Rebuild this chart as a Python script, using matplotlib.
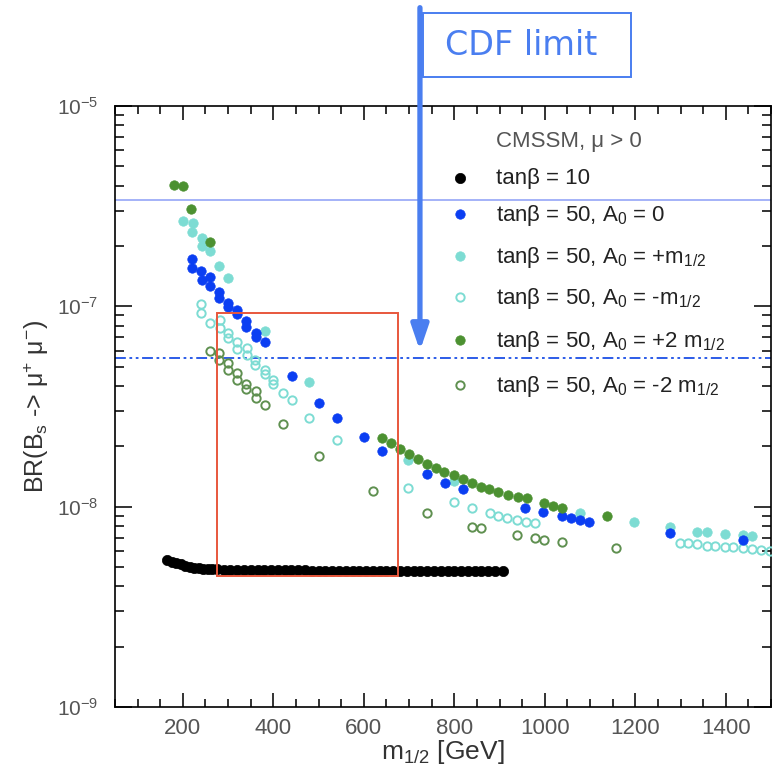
import matplotlib
matplotlib.use("Agg")
import matplotlib.pyplot as plt
from matplotlib.patches import Rectangle
from matplotlib.ticker import MultipleLocator, LogLocator, FixedLocator, FixedFormatter, NullFormatter

plt.rcParams['font.family'] = ['Liberation Sans', 'DejaVu Sans']
plt.rcParams['mathtext.fontset'] = 'custom'
plt.rcParams['mathtext.rm'] = 'Liberation Sans'
plt.rcParams['mathtext.it'] = 'Liberation Sans:italic'
plt.rcParams['mathtext.bf'] = 'Liberation Sans:bold'

# ---------------- data ----------------
# tan(beta) = 10
tb10_x = [165, 175, 185, 195, 205, 215, 225, 235, 245, 255, 265, 275, 290, 305, 320, 335, 350, 365,
          380, 395, 410, 425, 440, 455, 470, 485, 500, 515, 530, 545, 560, 575, 590, 605, 620, 635,
          650, 665, 680, 695, 710, 725, 740, 755, 770, 785, 800, 815, 830, 845, 860, 875, 890, 908]
tb10_y = [5.40e-9, 5.30e-9, 5.22e-9, 5.15e-9, 5.08e-9, 5.02e-9, 4.97e-9, 4.93e-9, 4.90e-9, 4.88e-9,
          4.87e-9, 4.86e-9, 4.85e-9, 4.84e-9, 4.84e-9, 4.83e-9, 4.83e-9, 4.83e-9, 4.82e-9, 4.82e-9,
          4.82e-9, 4.82e-9, 4.81e-9, 4.81e-9, 4.81e-9, 4.80e-9, 4.80e-9, 4.80e-9, 4.80e-9, 4.80e-9,
          4.80e-9, 4.79e-9, 4.79e-9, 4.79e-9, 4.79e-9, 4.79e-9, 4.79e-9, 4.79e-9, 4.78e-9, 4.78e-9,
          4.78e-9, 4.78e-9, 4.78e-9, 4.78e-9, 4.77e-9, 4.77e-9, 4.77e-9, 4.77e-9, 4.77e-9, 4.76e-9,
          4.76e-9, 4.76e-9, 4.76e-9, 4.76e-9]

# tan(beta) = 50, A0 = 0
a0_x = [220, 220, 240, 242, 260, 260, 280, 280, 300, 300, 320, 320, 340, 340, 362, 362, 382,
        441, 501, 541, 600, 640, 740, 779, 819, 956, 996, 1038, 1058, 1078, 1098, 1277, 1438]
a0_y = [1.72e-7, 1.55e-7, 1.50e-7, 1.35e-7, 1.40e-7, 1.26e-7, 1.18e-7, 1.10e-7, 1.04e-7, 9.9e-8,
        9.6e-8, 9.2e-8, 8.45e-8, 7.9e-8, 7.4e-8, 7.0e-8, 6.6e-8,
        4.5e-8, 3.3e-8, 2.77e-8, 2.22e-8, 1.90e-8, 1.46e-8, 1.31e-8, 1.22e-8, 9.8e-9, 9.4e-9,
        9.0e-9, 8.8e-9, 8.6e-9, 8.4e-9, 7.4e-9, 6.8e-9]

# tan(beta) = 50, A0 = +m1/2
ap_x = [200, 222, 220, 242, 242, 260, 280, 300, 382, 479, 698, 799, 1078, 1197, 1277, 1337, 1359,
        1398, 1438, 1458]
ap_y = [2.67e-7, 2.61e-7, 2.35e-7, 2.19e-7, 2.0e-7, 1.89e-7, 1.59e-7, 1.38e-7, 7.5e-8, 4.2e-8,
        1.71e-8, 1.34e-8, 9.3e-9, 8.4e-9, 7.9e-9, 7.5e-9, 7.5e-9, 7.3e-9, 7.2e-9, 7.1e-9]

# tan(beta) = 50, A0 = -m1/2
am_x = [240, 240, 260, 282, 282, 300, 300, 320, 320, 342, 342, 360, 360, 382, 382, 399, 399, 421,
        441, 479, 541, 698, 799, 839, 879, 897, 917, 939, 958, 978,
        1299, 1317, 1337, 1359, 1376, 1398, 1416, 1438, 1458, 1478, 1498]
am_y = [1.03e-7, 9.3e-8, 8.3e-8, 8.55e-8, 7.8e-8, 7.4e-8, 6.95e-8, 6.6e-8, 6.1e-8, 6.2e-8, 5.7e-8,
        5.4e-8, 5.1e-8, 4.8e-8, 4.6e-8, 4.3e-8, 4.1e-8, 3.7e-8, 3.4e-8, 2.77e-8, 2.15e-8,
        1.24e-8, 1.05e-8, 9.8e-9, 9.3e-9, 9.0e-9, 8.8e-9, 8.6e-9, 8.4e-9, 8.3e-9,
        6.6e-9, 6.6e-9, 6.5e-9, 6.4e-9, 6.35e-9, 6.3e-9, 6.3e-9, 6.2e-9, 6.15e-9, 6.1e-9, 6.0e-9]

# tan(beta) = 50, A0 = +2 m1/2
a2p_x = [180, 200, 218, 260, 640, 660, 680, 700, 720, 740, 760, 777, 799, 819, 839, 859, 877, 897,
         919, 941, 961, 998, 1018, 1038, 1138]
a2p_y = [4.03e-7, 4.0e-7, 3.06e-7, 2.09e-7, 2.2e-8, 2.08e-8, 1.94e-8, 1.83e-8, 1.73e-8, 1.63e-8,
         1.56e-8, 1.49e-8, 1.44e-8, 1.37e-8, 1.31e-8, 1.25e-8, 1.22e-8, 1.18e-8, 1.14e-8, 1.12e-8,
         1.10e-8, 1.04e-8, 1.01e-8, 9.8e-9, 8.97e-9]

# tan(beta) = 50, A0 = -2 m1/2
a2m_x = [260, 280, 280, 300, 300, 320, 320, 340, 340, 362, 362, 382, 421, 501, 620, 740, 839, 859,
         939, 978, 998, 1038, 1157]
a2m_y = [5.98e-8, 5.85e-8, 5.4e-8, 5.2e-8, 4.8e-8, 4.65e-8, 4.3e-8, 4.1e-8, 3.86e-8, 3.77e-8,
         3.5e-8, 3.2e-8, 2.6e-8, 1.79e-8, 1.2e-8, 9.3e-9, 7.9e-9, 7.8e-9, 7.2e-9, 7.0e-9, 6.8e-9,
         6.65e-9, 6.2e-9]

labels = ['tanβ = 10',
          'tanβ = 50, A$_0$ = 0',
          'tanβ = 50, A$_0$ = +m$_{1/2}$',
          'tanβ = 50, A$_0$ = -m$_{1/2}$',
          'tanβ = 50, A$_0$ = +2 m$_{1/2}$',
          'tanβ = 50, A$_0$ = -2 m$_{1/2}$']
legend_title = 'CMSSM, μ > 0'

cdf_limit = 3.4e-7        # solid line
future_limit = 5.5e-8     # dash-dot line
cdf_arrow_x = 724
cdf_arrow_tip = 6.0e-8
box_x = [275, 675]
box_y = [4.5e-9, 9.3e-8]

xticks = [200, 400, 600, 800, 1000, 1200, 1400]
yticks = [1e-9, 1e-8, 1e-7, 1e-6]
yticklabels = ['$10^{-9}$', '$10^{-8}$', '$10^{-7}$', '$10^{-5}$']

# ---------------- styles ----------------
c_black = '#000000'
c_blue = '#0b3ef2'
c_cyan = '#7ddcd3'
c_green = '#4c9131'
c_green_open = '#5f9050'
c_arrow = '#4a7ef0'

fig = plt.figure(figsize=(7.76, 7.68), dpi=100)
ax = fig.add_axes([0.1482, 0.0794, 0.8454, 0.7826])
ax.set_yscale('log')
ax.set_xlim(50, 1500)
ax.set_ylim(1e-9, 1e-6)

ms = 6.8
styles = [
    dict(color=c_black, marker='o', ms=7.4, mfc=c_black, mec=c_black, mew=0.5),
    dict(color=c_blue, marker='o', ms=ms, mfc=c_blue, mec=c_blue, mew=0.5),
    dict(color=c_cyan, marker='o', ms=ms, mfc=c_cyan, mec=c_cyan, mew=0.5),
    dict(color=c_cyan, marker='o', ms=6.0, mfc='none', mec=c_cyan, mew=1.4),
    dict(color=c_green, marker='o', ms=ms, mfc=c_green, mec=c_green, mew=0.5),
    dict(color=c_green_open, marker='o', ms=6.0, mfc='none', mec=c_green_open, mew=1.4),
]
series = [(tb10_x, tb10_y), (a0_x, a0_y), (ap_x, ap_y), (am_x, am_y), (a2p_x, a2p_y), (a2m_x, a2m_y)]
order = [0, 3, 5, 2, 1, 4]
for i in order:
    xs, ys = series[i]
    ax.plot(xs, ys, linestyle='none', zorder=3, **styles[i])

# limit lines
ax.axhline(cdf_limit, color='#8c9ef6', lw=1.1, zorder=2)
ax.axhline(future_limit, color='#1b4fe6', lw=1.3, dashes=(6, 2, 1.5, 2, 1.5, 2), zorder=2)

# red box
ax.add_patch(Rectangle((box_x[0], box_y[0]), box_x[1] - box_x[0], box_y[1] - box_y[0],
                       fill=False, edgecolor='#e8573c', lw=1.4, zorder=5))

# arrow
ax.annotate('', xy=(cdf_arrow_x, cdf_arrow_tip), xycoords='data',
            xytext=(cdf_arrow_x, 0.99), textcoords=('data', 'figure fraction'),
            arrowprops=dict(arrowstyle='-|>,head_length=0.5,head_width=0.17', mutation_scale=30,
                            lw=3.8, color=c_arrow, shrinkA=0, shrinkB=0),
            annotation_clip=False, zorder=6)

# CDF limit box
fig.add_artist(Rectangle((0.5451, 0.8997), 0.268, 0.0833, transform=fig.transFigure,
                         fill=False, edgecolor=c_arrow, lw=1.4))
fig.text(0.672, 0.941, 'CDF limit', color=c_arrow, fontsize=24, family='DejaVu Sans',
         ha='center', va='center')

# legend (manual)
lx_marker = 0.526
lx_text = 0.581
ax.text(lx_text, 0.932, legend_title, transform=ax.transAxes, fontsize=16, color='#555555',
        ha='left', va='baseline')
row_text_y = [0.870, 0.809, 0.739, 0.671, 0.599, 0.524]
row_mark_y = [0.880, 0.820, 0.751, 0.682, 0.611, 0.536]
for i in range(6):
    ax.plot([lx_marker], [row_mark_y[i]], transform=ax.transAxes, linestyle='none',
            clip_on=False, zorder=4, **styles[i])
    ax.text(lx_text, row_text_y[i], labels[i], transform=ax.transAxes, fontsize=16,
            color='#222222', ha='left', va='baseline')

# axes cosmetics
for sp in ax.spines.values():
    sp.set_linewidth(1.2)
ax.xaxis.set_major_locator(FixedLocator(xticks))
ax.xaxis.set_minor_locator(MultipleLocator(50))
ax.yaxis.set_major_locator(FixedLocator(yticks))
ax.yaxis.set_major_formatter(FixedFormatter(yticklabels))
ax.yaxis.set_minor_locator(LogLocator(base=10, subs=[2, 3, 4, 5, 6, 7, 8, 9]))
ax.yaxis.set_minor_formatter(NullFormatter())
ax.tick_params(which='both', direction='in', top=True, right=True, width=1.2, colors='#111111',
               labelcolor='#555555')
ax.tick_params(axis='x', which='major', length=10, labelsize=16, pad=8)
ax.tick_params(axis='x', which='minor', length=6)
ax.tick_params(axis='y', which='major', length=12, labelsize=15, pad=12)
ax.tick_params(axis='y', which='minor', length=6.5)

ax.set_xlabel('m$_{1/2}$ [GeV]', fontsize=19, color='#333333', labelpad=-1)
ax.set_ylabel('BR(B$_{\\rm s}$ -> μ$^{+}$ μ$^{-}$)', fontsize=18, color='#333333', labelpad=4)

fig.savefig('out.png', dpi=100)
